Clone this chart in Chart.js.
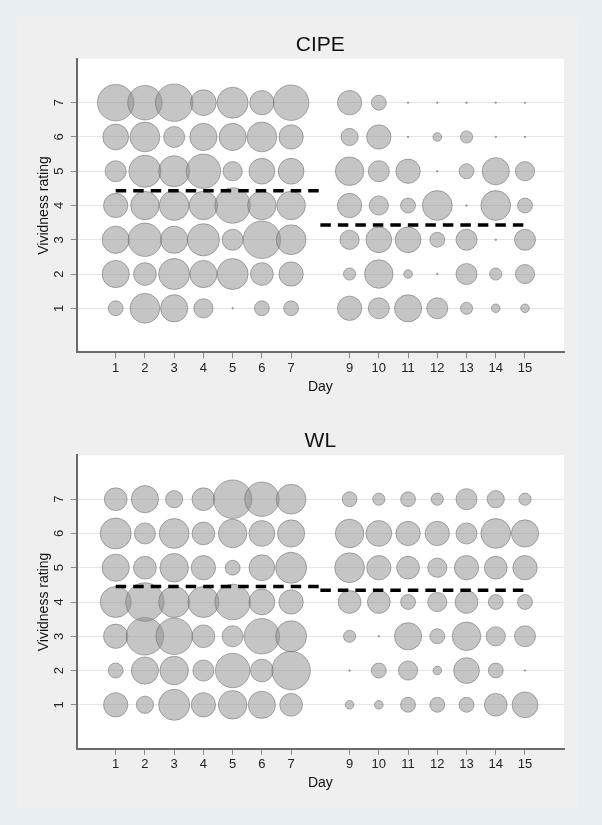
<!DOCTYPE html>
<html><head><meta charset="utf-8">
<script src="https://cdn.jsdelivr.net/npm/chart.js@4"></script>
<style>
html,body{margin:0;padding:0;width:602px;height:825px;background:#e8eef1;overflow:hidden}
#panel{position:absolute;left:17px;top:17px;width:562px;height:791px;background:#efefef}
.c{position:absolute;left:17px;width:568px;height:396px}
</style></head><body>
<div id="panel"></div>
<div class="c" style="top:17px"><canvas id="c1" width="568" height="396"></canvas></div>
<div class="c" style="top:413px"><canvas id="c2" width="568" height="396"></canvas></div>
<script>
// Days shown on the x axis (day 8 absent)
const days = [1,2,3,4,5,6,7,9,10,11,12,13,14,15];
const ratings = [1,2,3,4,5,6,7];

// CIPE: number of responses per vividness rating, per day
const cipe_r7 = [18,16,19,9,13,8,17, 8,3,0,0,0,0,0];
const cipe_r6 = [9,12,6,10,10,12,8, 4,8,0,1,2,0,0];
const cipe_r5 = [6,14,13,16,5,9,9, 11,6,8,0,3,10,5];
const cipe_r4 = [8,11,12,11,17,11,11, 8,5,3,12,0,12,3];
const cipe_r3 = [10,15,10,14,6,19,12, 5,9,9,3,6,0,6];
const cipe_r2 = [10,7,13,10,13,7,8, 2,11,1,0,6,2,5];
const cipe_r1 = [3,12,10,5,0,3,3, 8,6,10,6,2,1,1];

// WL: number of responses per vividness rating, per day
const wl_r7 = [7,10,4,7,20,16,12, 3,2,3,2,6,4,2];
const wl_r6 = [13,6,12,7,11,9,10, 11,9,8,8,6,12,10];
const wl_r5 = [10,7,11,8,3,9,13, 12,8,7,5,8,7,8];
const wl_r4 = [13,20,13,13,17,9,8, 7,7,3,5,7,3,3];
const wl_r3 = [8,19,18,7,6,17,13, 2,0,10,3,11,5,6];
const wl_r2 = [3,10,11,6,16,7,20, 0,3,5,1,9,3,0];
const wl_r1 = [8,4,13,8,11,10,7, 1,1,3,3,3,7,9];

// Mean rating per period (days 1-8, days 8-15)
const periodBounds = [[1,8],[8,15]];
const cipeMeans = [4.43, 3.43];
const wlMeans = [4.45, 4.34];

const FONT = "'Liberation Sans', Arial, Helvetica, sans-serif";

const plotBg = {
  id: 'plotBg',
  beforeDraw(chart) {
    const {ctx, chartArea: a} = chart;
    ctx.save();
    ctx.fillStyle = '#ffffff';
    ctx.fillRect(a.left, a.top, a.right - a.left, a.bottom - a.top);
    ctx.restore();
  }
};

function bubbleData(rows) {
  const pts = [];
  rows.forEach((arr, ri) => {
    const rating = ratings[ri];
    arr.forEach((n, di) => {
      pts.push({x: days[di], y: rating, r: n > 0 ? 4.3 * Math.sqrt(n) : 0.8});
    });
  });
  return pts;
}

function makeChart(id, title, rows, means, shift) {
  const datasets = [];
  means.forEach((m, i) => {
    datasets.push({
      type: 'line',
      data: [{x: periodBounds[i][0], y: m}, {x: periodBounds[i][1], y: m}],
      borderColor: '#000000',
      borderWidth: 3.5,
      borderDash: [10.5, 7],
      pointRadius: 0,
      fill: false,
      order: 0
    });
  });
  datasets.push({
    type: 'bubble',
    data: bubbleData(rows),
    backgroundColor: 'rgba(143,143,143,0.52)',
    borderColor: 'rgba(100,100,100,0.5)',
    borderWidth: 1,
    order: 1
  });
  return new Chart(document.getElementById(id), {
    type: 'bubble',
    data: {datasets},
    plugins: [plotBg],
    options: {
      responsive: false,
      animation: false,
      events: [],
      devicePixelRatio: 1,
      layout: {padding: {left: 18.4, right: 21, top: 15.2 + shift, bottom: 17.9 - shift}},
      plugins: {
        legend: {display: false},
        tooltip: {enabled: false},
        title: {
          display: true, text: title, fullSize: false,
          font: {family: FONT, size: 21, weight: 'normal'},
          color: '#111', padding: {top: 0, bottom: 1.3}
        }
      },
      scales: {
        x: {
          type: 'linear', min: -0.334, max: 16.334,
          afterBuildTicks: s => { s.ticks = days.map(v => ({value: v})); },
          afterFit: s => { s.height = 42.8; },
          ticks: {font: {family: FONT, size: 13}, color: '#222', padding: 2, autoSkip: false, maxRotation: 0, callback: v => String(v)},
          grid: {drawOnChartArea: false, tickLength: 6, tickColor: '#8a8a8a', tickWidth: 1},
          border: {color: '#6b6b6b', width: 2},
          title: {display: true, text: 'Day', font: {family: FONT, size: 14}, color: '#111', padding: {top: 0, bottom: 0}}
        },
        y: {
          type: 'linear', min: -0.284, max: 8.284,
          afterBuildTicks: s => { s.ticks = ratings.map(v => ({value: v})); },
          afterFit: s => { s.width = 41.3; },
          ticks: {font: {family: FONT, size: 13}, color: '#222', padding: 8, minRotation: 90, maxRotation: 90, crossAlign: 'center', callback: v => String(v)},
          grid: {color: '#e6e6e6', lineWidth: 1, tickLength: 6, tickColor: '#8a8a8a', tickWidth: 1},
          border: {color: '#6b6b6b', width: 2},
          title: {display: true, text: 'Vividness rating', font: {family: FONT, size: 14}, color: '#111', padding: {top: 0, bottom: 0}}
        }
      }
    }
  });
}

makeChart('c1', 'CIPE', [cipe_r1, cipe_r2, cipe_r3, cipe_r4, cipe_r5, cipe_r6, cipe_r7], cipeMeans, 0);
makeChart('c2', 'WL', [wl_r1, wl_r2, wl_r3, wl_r4, wl_r5, wl_r6, wl_r7], wlMeans, 0.5);
</script>
</body></html>
